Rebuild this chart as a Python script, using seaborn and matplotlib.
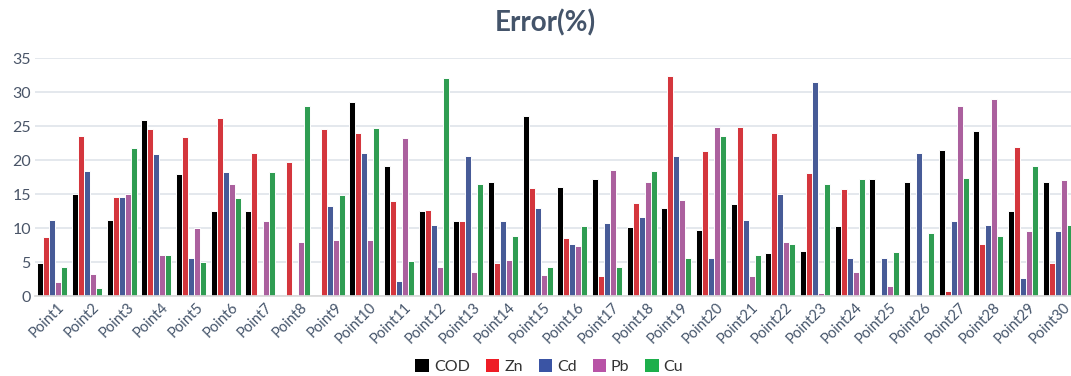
import numpy as np
import pandas as pd
import matplotlib
matplotlib.use("Agg")
import matplotlib.pyplot as plt
import matplotlib.transforms as mtransforms
import seaborn as sns
from matplotlib.patches import Patch

points = [f"Point{i}" for i in range(1, 31)]
series = ["COD", "Zn", "Cd", "Pb", "Cu"]

cod = [4.8, 15.0, 11.2, 25.9, 17.9, 12.5, 12.5, 0.0, 0.0, 28.6,
       19.1, 12.5, 11.1, 16.7, 26.5, 16.0, 17.2, 10.2, 12.9, 9.7,
       13.5, 6.3, 6.6, 10.3, 17.2, 16.7, 21.5, 24.3, 12.5, 16.7]
zn = [8.7, 23.5, 14.5, 24.5, 23.4, 26.2, 21.0, 19.7, 24.6, 24.0,
      13.9, 12.7, 11.1, 4.8, 15.9, 8.5, 3.0, 13.7, 32.4, 21.3,
      24.9, 23.9, 18.1, 15.7, 0.0, 0.0, 0.8, 7.6, 21.9, 4.8]
cd = [11.2, 18.4, 14.5, 20.9, 5.6, 18.2, 0.0, 0.0, 13.3, 21.1,
      2.2, 10.5, 20.6, 11.1, 13.0, 7.6, 10.8, 11.6, 20.6, 5.6,
      11.2, 15.0, 31.4, 5.6, 5.6, 21.1, 11.1, 10.5, 2.7, 9.6]
pb = [2.0, 3.2, 15.0, 6.0, 10.0, 16.4, 11.1, 8.0, 8.3, 8.3,
      23.3, 4.2, 3.6, 5.3, 3.1, 7.4, 18.6, 16.7, 14.1, 24.9,
      3.0, 8.0, 0.4, 3.5, 1.4, 0.2, 27.9, 28.9, 9.6, 17.0]
cu = [4.2, 1.2, 21.7, 6.0, 5.0, 14.4, 18.3, 28.0, 14.9, 24.7,
      5.2, 32.0, 16.4, 8.8, 4.3, 10.3, 4.3, 18.4, 5.6, 23.5,
      6.0, 7.6, 16.5, 17.2, 6.4, 9.3, 17.4, 8.8, 19.1, 10.4]

colors = ["#000000", "#EE1C25", "#3A54A4", "#B853A6", "#1DAF4B"]

df = pd.DataFrame({"Point": points, "COD": cod, "Zn": zn, "Cd": cd, "Pb": pb, "Cu": cu})
long = df.melt(id_vars="Point", var_name="Metric", value_name="Error")

sns.set_theme(style="white")
plt.rcParams["font.family"] = ["Lato", "DejaVu Sans"]

fig = plt.figure(figsize=(10.71, 3.76), dpi=100)
ax = fig.add_axes([35 / 1071, 80 / 376, 1040 / 1071, 238 / 376])

sns.barplot(data=long, x="Point", y="Error", hue="Metric", hue_order=series,
            order=points, palette=colors, width=0.86, edgecolor="white",
            linewidth=0.7, ax=ax, legend=False)

ax.set_ylim(0, 35)
ax.set_xlim(-0.5, 29.5)
ax.set_yticks(np.arange(0, 36, 5))
ax.yaxis.grid(True, color="#DCE1E8", linewidth=1.1)
ax.set_axisbelow(True)
for s in ["top", "right", "left"]:
    ax.spines[s].set_visible(False)
ax.spines["bottom"].set_color("#D9D9D9")
ax.set_xlabel("")
ax.set_ylabel("")
ax.tick_params(axis="y", length=0, labelsize=11.5, labelcolor="#4A5568", pad=3)
ax.tick_params(axis="x", length=0, labelsize=10.5, labelcolor="#44546A", pad=3)
shift = mtransforms.ScaledTranslation(5 / 100, 0, fig.dpi_scale_trans)
for lbl in ax.get_xticklabels():
    lbl.set_rotation(45)
    lbl.set_ha("right")
    lbl.set_rotation_mode("anchor")
    lbl.set_transform(lbl.get_transform() + shift)

fig.text(0.509, 0.939, "Error(%)", ha="center", va="center", fontsize=20,
         fontweight="bold", color="#44546A")

handles = [Patch(facecolor=c, edgecolor="none", label=s) for c, s in zip(colors, series)]
fig.legend(handles=handles, loc="center", bbox_to_anchor=(0.513, 0.025), ncol=5,
           frameon=False, fontsize=11.5, handlelength=0.85, handleheight=0.85,
           handletextpad=0.3, columnspacing=1.0, labelcolor="#333333")

fig.savefig("out.png", dpi=100)
